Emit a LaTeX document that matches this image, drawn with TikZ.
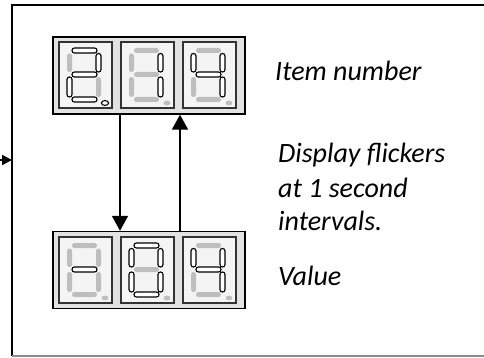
\documentclass[tikz,border=0pt]{standalone}
\usepackage{fontspec}
\setmainfont{Carlito}
\usetikzlibrary{arrows.meta}
\definecolor{dispbg}{HTML}{E2E2E2}
\definecolor{cellbg}{HTML}{F4F4F4}
\definecolor{cellline}{HTML}{333333}
\definecolor{seggrey}{HTML}{BEBEBE}
\tikzset{
  display/.style={draw=black, line width=1.4pt, fill=dispbg, minimum width=192pt, minimum height=77pt, inner sep=0pt},
  cellsty/.style={draw=cellline, line width=1.4pt, fill=cellbg},
  segon/.style={draw=black, line width=1.1pt, fill=white, rounded corners=2.4pt},
  segoff/.style={fill=seggrey, draw=none, rounded corners=2.4pt},
  arr/.style={line width=1.9pt, -{Triangle[width=16pt,length=15pt]}},
  inarr/.style={line width=1.6pt, -{Triangle[width=10pt,length=10pt]}},
  lbl/.style={anchor=base west, inner sep=0pt, font=\fontsize{28}{33}\selectfont\itshape},
}
\newcommand\dseg[2]{\ifnum#1=1 \path[segon] #2;\else\path[segoff] #2;\fi}
\newcommand\sevdigit[9]{%
  \begin{scope}[shift={(#1)}]
    \path[cellsty] (0,0) rectangle (53,66);
    \dseg{#2}{(13,6) rectangle (38,11)}
    \dseg{#3}{(37,11.5) rectangle (42,30)}
    \dseg{#4}{(37,35) rectangle (42,55)}
    \dseg{#5}{(13,55) rectangle (38,60)}
    \dseg{#6}{(8,35) rectangle (13,55)}
    \dseg{#7}{(8,11.5) rectangle (13,30)}
    \dseg{#8}{(13,30) rectangle (38,35)}
    \ifnum#9=1 \path[draw=black, line width=1.1pt, fill=white] (46,61) ellipse (3.6 and 2.4);
    \else \path[fill=seggrey] (46,61) ellipse (3.4 and 2.4);\fi
  \end{scope}}
\begin{document}
\begin{tikzpicture}[x=1pt,y=-1pt]
\useasboundingbox (0,0) rectangle (484,358);
% outer frame
\draw[line width=1.6pt] (486,5) -- (12,5) -- (12,356);
\draw[line width=1.2pt, draw=black!45] (12,356) -- (486,356);
\coordinate (inL) at (0,160);
\coordinate (frameL) at (12,160);
\draw[inarr] (inL) -- (frameL);
% displays
\node[display] (topd) at (149,75.5) {};
\node[display] (botd) at (149,270) {};
% top: 2. 1 4
\sevdigit{59,42}{1}{1}{0}{1}{1}{0}{1}{1}
\sevdigit{121,42}{0}{1}{1}{0}{0}{0}{0}{0}
\sevdigit{183,42}{0}{1}{1}{0}{0}{1}{1}{0}
% bottom: - 0 4
\sevdigit{59,237}{0}{0}{0}{0}{0}{0}{1}{0}
\sevdigit{121,237}{1}{1}{1}{1}{1}{1}{0}{0}
\sevdigit{183,237}{0}{1}{1}{0}{0}{1}{1}{0}
% arrows
\coordinate (dx) at (120,0);
\coordinate (ux) at (180,0);
\draw[arr] (topd.south -| dx) -- (botd.north -| dx);
\draw[arr] (botd.north -| ux) -- (topd.south -| ux);
% labels
\node[lbl] (item) at (275,81) {Item number};
\node[lbl] (disp) at (278,163) {Display flickers};
\node[lbl] (at1) at (278,197) {at 1 second};
\node[lbl] (intv) at (278,230) {intervals.};
\node[lbl] (val) at (278,285) {Value};
\end{tikzpicture}
\end{document}
